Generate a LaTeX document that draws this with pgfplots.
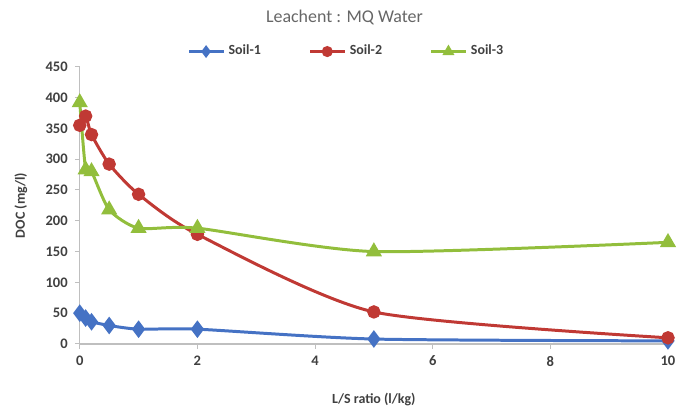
\documentclass[border=0pt]{standalone}
\usepackage{pgfplots}
\pgfplotsset{compat=1.18}
\usepackage{fontspec}
\setmainfont{Carlito}
\definecolor{s1}{RGB}{69,114,196}
\definecolor{s2}{RGB}{192,57,52}
\definecolor{s3}{RGB}{146,190,60}
\begin{document}
\begin{tikzpicture}
\begin{axis}[
  scale only axis, width=295pt, height=139pt,
  at={(0,0)}, anchor=south west,
  xmin=0, xmax=10, ymin=0, ymax=450,
  xtick={0,2,...,10}, ytick={0,50,...,450},
  axis x line*=bottom, axis y line*=left,
  axis line style={gray!50, line width=0.6pt},
  tick style={gray!50, line width=0.5pt},
  tick align=outside, major tick length=2.5pt,
  ticklabel style={font=\fontsize{7.3}{8}\selectfont\bfseries, text=black!75},
  /pgf/number format/assume math mode=true,
  xlabel={L/S ratio (l/kg)}, ylabel={DOC (mg/l)},
  label style={font=\fontsize{7}{8}\selectfont\bfseries, text=black!75},
  xlabel style={at={(axis description cs:0.5,-0.2)}, anchor=center},
  ylabel style={at={(axis description cs:-0.1,0.5)}, anchor=center},
  title={Leachent : MQ Water},
  title style={font=\fontsize{9}{10}\selectfont, text=black!60, at={(axis description cs:0.45,1.135)}, anchor=center},
  legend style={draw=none, fill=none, at={(axis description cs:0.455,1.055)}, anchor=center,
    font=\fontsize{7}{8}\selectfont\bfseries, text=black!75, /tikz/every even column/.append style={column sep=22pt}},
  legend columns=3,
  legend image post style={mark size=2pt},
  clip=false,
]
\addplot[s1, line width=1.5pt, smooth, tension=0.4, mark=diamond*, mark size=3.2pt, mark options={fill=s1}]
 coordinates {(0,50) (0.1,42) (0.2,36) (0.5,30) (1,24) (2,24) (5,8) (10,5)};
\addlegendentry{Soil-1}
\addplot[s2, line width=1.5pt, smooth, tension=0.4, mark=*, mark size=2.6pt, mark options={fill=s2}]
 coordinates {(0,355) (0.1,370) (0.2,340) (0.5,292) (1,243) (2,178) (5,52) (10,10)};
\addlegendentry{Soil-2}
\addplot[s3, line width=1.5pt, smooth, tension=0.4, mark=triangle*, mark size=3.2pt, mark options={fill=s3}]
 coordinates {(0,392) (0.1,283) (0.2,280) (0.5,218) (1,188) (2,188) (5,150) (10,165)};
\addlegendentry{Soil-3}
\end{axis}
\useasboundingbox (-40pt,-36.5pt) rectangle (301pt,172.5pt);
\end{tikzpicture}
\end{document}
